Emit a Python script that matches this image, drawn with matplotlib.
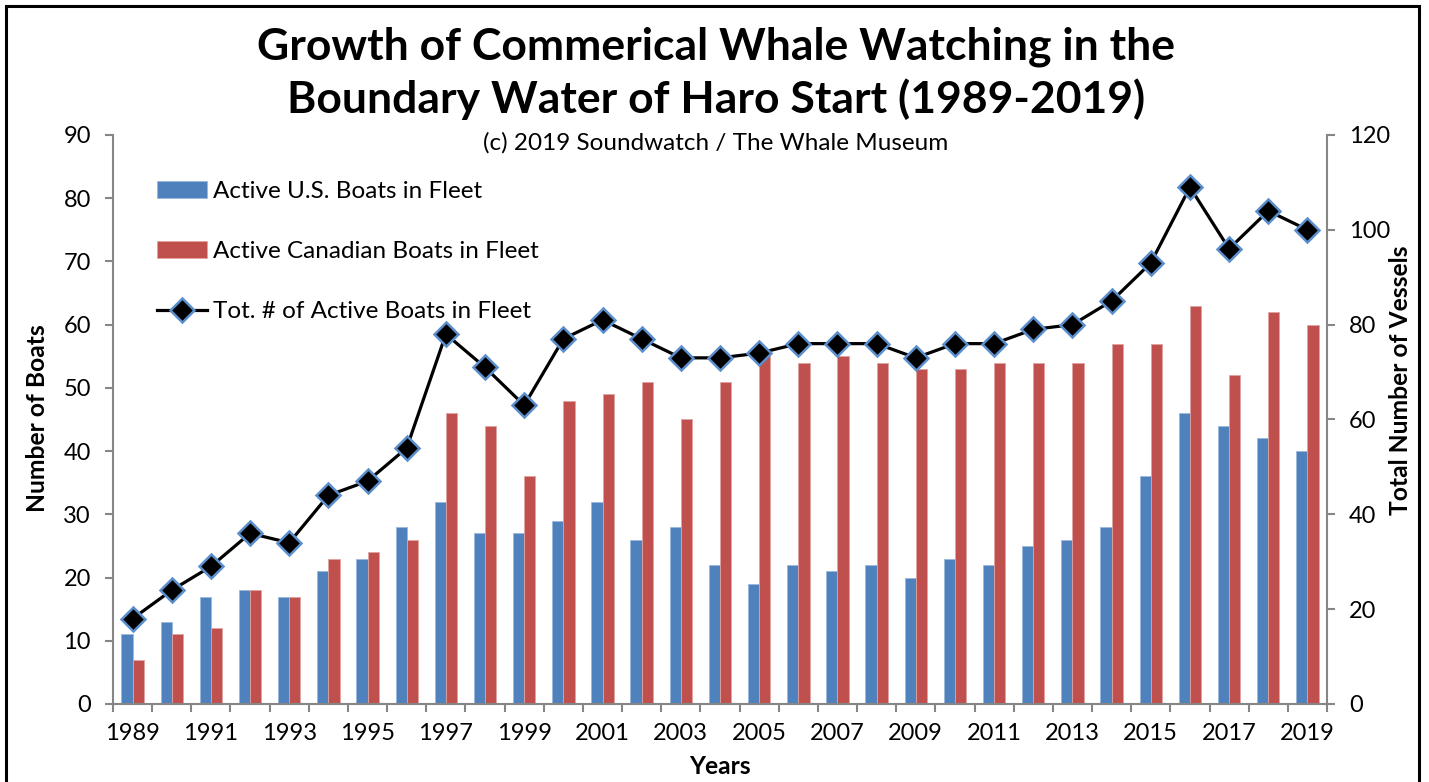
import numpy as np
import matplotlib
matplotlib.use("Agg")
from matplotlib import pyplot as plt
from matplotlib.patches import Rectangle

plt.rcParams['font.family'] = ['Lato', 'DejaVu Sans']

# data
years = list(range(1989, 2020))
us_boats = [11, 13, 17, 18, 17, 21, 23, 28, 32, 27, 27, 29, 32, 26, 28, 22,
            19, 22, 21, 22, 20, 23, 22, 25, 26, 28, 36, 46, 44, 42, 40]
cdn_boats = [7, 11, 12, 18, 17, 23, 24, 26, 46, 44, 36, 48, 49, 51, 45, 51,
             55, 54, 55, 54, 53, 53, 54, 54, 54, 57, 57, 63, 52, 62, 60]
total_boats = [18, 24, 29, 36, 34, 44, 47, 54, 78, 71, 63, 77, 81, 77, 73, 73,
               74, 76, 76, 76, 73, 76, 76, 79, 80, 85, 93, 109, 96, 104, 100]

blue = '#4F81BD'
red = '#C0504D'
grey = '#868686'

fig = plt.figure(figsize=(14.29, 7.82), dpi=100)
ax = fig.add_axes([113/1429, 1 - 704/782, (1327-113)/1429, (704-135)/782])
ax2 = ax.twinx()

x = np.arange(len(years))
w = 0.286
ax.bar(x - w/2, us_boats, w, color=blue, edgecolor='#9bb7dc', linewidth=0.6,
       label='Active U.S. Boats in Fleet')
ax.bar(x + w/2, cdn_boats, w, color=red, edgecolor='#e0a3a1', linewidth=0.6,
       label='Active Canadian Boats in Fleet')
ax2.plot(x, total_boats, color='black', lw=2.3, marker='D', markersize=12,
         markerfacecolor='black', markeredgecolor='#5B8FCC', markeredgewidth=1.8,
         label='Tot. # of Active Boats in Fleet')

ax.set_xlim(-0.5, len(years) - 0.5)
ax.set_ylim(0, 90)
ax.set_yticks(range(0, 91, 10))
ax2.set_ylim(0, 120)
ax2.set_yticks(range(0, 121, 20))

ax.set_xticks(x[::2])
ax.set_xticklabels([str(y) for y in years[::2]])
ax.set_xticks(np.arange(-0.5, len(years), 1), minor=True)
ax.tick_params(axis='x', which='major', length=0, pad=14, labelsize=17)
ax.tick_params(axis='x', which='minor', length=6, width=1.5, color=grey, direction='out')
ax.tick_params(axis='y', length=6, width=1.5, color=grey, labelsize=17, pad=10)
ax2.tick_params(axis='y', length=6, width=1.5, color=grey, labelsize=17, pad=10)

for a in (ax, ax2):
    a.spines['top'].set_visible(False)
    for s in ('left', 'right', 'bottom'):
        a.spines[s].set_color(grey)
        a.spines[s].set_linewidth(1.5)
ax.spines['right'].set_visible(False)
ax2.spines['left'].set_visible(False)
ax2.spines['bottom'].set_visible(False)

h1, l1 = ax.get_legend_handles_labels()
h2, l2 = ax2.get_legend_handles_labels()
ax2.legend(h1 + h2, l1 + l2, loc='upper left', bbox_to_anchor=(0.036, 0.92),
           frameon=False, fontsize=17.5, handlelength=2.06, handleheight=0.7,
           handletextpad=0.25, labelspacing=1.62, borderpad=0, borderaxespad=0)

fig.text(716/1429, 1 - 73/782, 'Growth of Commerical Whale Watching in the\nBoundary Water of Haro Start (1989-2019)',
         ha='center', va='center', fontsize=32, fontweight='bold', linespacing=1.34)
fig.text(716/1429, 1 - 143/782, '(c) 2019 Soundwatch / The Whale Museum',
         ha='center', va='center', fontsize=17.5)
fig.text(38/1429, 1 - 418/782, 'Number of Boats', rotation=90, ha='center', va='center',
         fontsize=17.7, fontweight='bold')
fig.text(1401/1429, 1 - 380/782, 'Total Number of Vessels', rotation=90, ha='center', va='center',
         fontsize=17.7, fontweight='bold')
fig.text(720/1429, 1 - 766/782, 'Years', ha='center', va='center',
         fontsize=17.7, fontweight='bold')

# outer frame, cut off at the bottom like the source image
fig.patches.append(Rectangle((6/1429, -0.05), (1419-6)/1429, 1.05 - 6/782,
                             transform=fig.transFigure, fill=False,
                             edgecolor='black', linewidth=2.2))

fig.savefig('out.png', dpi=100)
